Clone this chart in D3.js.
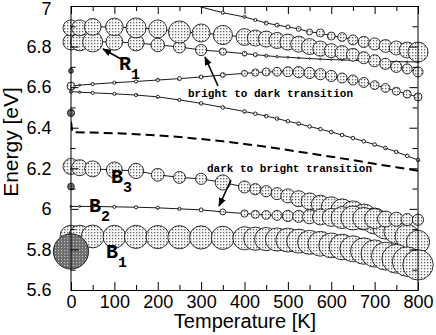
<!DOCTYPE html>
<html>
<head>
<meta charset="utf-8">
<script src="https://cdn.jsdelivr.net/npm/d3@7"></script>
<style>
body{margin:0;background:#fff}
svg{display:block}
</style>
</head>
<body>
<svg id="chart" width="436" height="335"></svg>
<script>
// temperature grid [K]
const temps=[0,20,50,100,150,200,250,300,350,400,425,450,475,500,525,550,575,600,625,650,675,700,725,750,775,800];

// energies [eV] and oscillator strength (arbitrary units, 0-100) per state
const topLineE=[null,null,null,null,null,null,7.03,6.995,6.967,6.946,6.931,6.916,6.906,6.897,6.887,6.872,6.867,6.852,6.847,6.833,6.823,6.813,6.803,6.793,6.783,6.773];
const topLineW=[0,0,0,0,0,0,0,0,8,8,8,10,10,10,12,15,20,20,22,25,28,30,32,35,40,50];

const r1UpperE=[6.892,6.892,6.897,6.897,6.892,6.887,6.872,6.867,6.857,6.847,6.842,6.837,6.83,6.822,6.812,6.80,6.79,6.78,6.77,6.76,6.745,6.73,6.715,6.70,6.69,6.675];
const r1UpperW=[40,40,42,44,50,45,55,45,48,42,40,40,40,40,40,40,38,35,35,32,30,30,28,28,25,25];

const r1LowerE=[6.823,6.823,6.823,6.823,6.818,6.808,6.798,6.783,6.775,6.765,6.76,6.755,6.75,6.747,6.744,6.741,6.738,6.736,6.734,6.732,6.73,6.728,6.727,6.726,6.725,6.724];
const r1LowerW=[40,45,50,42,40,34,30,28,18,12,10,8,6,5,4,4,4,4,4,4,4,4,4,4,4,5];

const midRiseE=[6.605,6.61,6.615,6.622,6.628,6.635,6.642,6.65,6.66,6.668,6.672,6.675,6.676,6.676,6.674,6.67,6.664,6.655,6.645,6.635,6.623,6.61,6.596,6.58,6.566,6.552];
const midRiseW=[20,5,8,8,8,9,10,10,12,15,18,20,22,25,28,28,28,28,25,25,25,22,22,20,20,20];

const midFallE=[6.578,6.575,6.572,6.567,6.561,6.552,6.537,6.52,6.5,6.48,6.469,6.457,6.445,6.432,6.42,6.406,6.393,6.379,6.364,6.349,6.333,6.317,6.3,6.281,6.261,6.241];
const midFallW=[8,6,8,8,8,8,8,9,9,9,9,9,9,9,9,9,9,9,9,9,9,9,9,9,9,9];

const b3E=[6.209,6.203,6.197,6.192,6.187,6.168,6.155,6.148,6.13,6.108,6.097,6.087,6.075,6.064,6.05,6.037,6.023,6.01,5.995,5.98,5.96,5.94,5.915,5.89,5.865,5.837];
const b3W=[40,40,40,40,38,32,30,28,38,30,28,28,30,35,40,42,45,50,55,60,65,65,65,62,60,58];

const b2E=[6.012,6.012,6.012,6.01,6.008,6.005,6.0,5.995,5.985,5.977,5.973,5.97,5.968,5.965,5.963,5.961,5.96,5.958,5.957,5.955,5.953,5.952,5.95,5.949,5.947,5.946];
const b2W=[5,5,8,8,8,8,8,10,15,18,20,22,25,28,30,35,40,45,55,60,55,50,40,35,30,28];

const b1E=[5.865,5.865,5.864,5.863,5.862,5.861,5.86,5.859,5.857,5.855,5.853,5.851,5.849,5.846,5.841,5.835,5.828,5.82,5.812,5.803,5.792,5.78,5.767,5.754,5.74,5.724];
const b1W=[55,55,57,57,58,58,58,58,58,58,58,58,58,60,60,60,62,62,64,65,66,68,70,72,74,76];

// T = 0 K reference states (dark markers)
const darkE=[6.68,6.473,6.11,5.79];
const darkW=[12,18,17,88];

// dashed curve
const dashT=[0,3,50,100,150,200,250,300,350,400,450,500,550,600,650,700,750,800];
const dashE=[6.43,6.378,6.376,6.373,6.368,6.362,6.354,6.344,6.333,6.32,6.306,6.29,6.274,6.257,6.24,6.222,6.205,6.188];

// axis ticks
const xTicks=[0,100,200,300,400,500,600,700,800];
const xMinor=[50,150,250,350,450,550,650,750];
const yTicks=[5.6,5.8,6,6.2,6.4,6.6,6.8,7];
const yMinor=[5.7,5.9,6.1,6.3,6.5,6.7,6.9];

const series=[
    {e:topLineE,w:topLineW},
    {e:r1LowerE,w:r1LowerW},
    {e:r1UpperE,w:r1UpperW},
    {e:midRiseE,w:midRiseW},
    {e:midFallE,w:midFallW},
    {e:b3E,w:b3W},
    {e:b2E,w:b2W},
    {e:b1E,w:b1W}
];

const svg=d3.select("#chart");
const x=d3.scaleLinear().domain([0,800]).range([71,418]);
const y=d3.scaleLinear().domain([5.6,7]).range([290,6]);
const r=d3.scaleLinear().domain([0,100]).range([0,20]);

const defs=svg.append("defs");
// stipple fills
const dots=defs.append("pattern").attr("id","dots")
    .attr("patternUnits","userSpaceOnUse").attr("width",3).attr("height",3);
dots.append("rect").attr("width",3).attr("height",3).attr("fill","#fafafa");
dots.append("rect").attr("x",1).attr("y",1).attr("width",1.3).attr("height",1.3).attr("fill","#666");
const darkDots=defs.append("pattern").attr("id","darkdots")
    .attr("patternUnits","userSpaceOnUse").attr("width",3).attr("height",3);
darkDots.append("rect").attr("width",3).attr("height",3).attr("fill","#6e6e6e");
darkDots.append("rect").attr("x",1).attr("y",1).attr("width",1.1).attr("height",1.1).attr("fill","#c4c4c4");

defs.append("clipPath").attr("id","plotclip")
    .append("rect").attr("x",71).attr("y",6).attr("width",347).attr("height",284);

defs.append("marker").attr("id","arrow")
    .attr("viewBox","0 0 10 10").attr("refX",9).attr("refY",5)
    .attr("markerWidth",9).attr("markerHeight",9)
    .attr("markerUnits","userSpaceOnUse").attr("orient","auto")
    .append("path").attr("d","M0,1L10,5L0,9z").attr("fill","black");

// lines
const line=d3.line()
    .defined(d=>d.e!=null)
    .x(d=>x(d.t))
    .y(d=>y(d.e));

const lines=svg.append("g").attr("clip-path","url(#plotclip)");
for(const s of series){
    const pts=temps.map((t,i)=>({t:t,e:s.e[i]}));
    lines.append("path")
        .attr("d",line(pts))
        .attr("fill","none")
        .attr("stroke","black")
        .attr("stroke-width",0.9);
}
lines.append("path")
    .attr("d",line(dashT.map((t,i)=>({t:t,e:dashE[i]}))))
    .attr("fill","none")
    .attr("stroke","black")
    .attr("stroke-width",2)
    .attr("stroke-dasharray","9,5");

// circles (size = oscillator strength)
const marks=svg.append("g");
for(const s of series){
    temps.forEach((t,i)=>{
        if(s.e[i]==null||s.w[i]<=0) return;
        marks.append("circle")
            .attr("cx",x(t))
            .attr("cy",y(s.e[i]))
            .attr("r",r(s.w[i]))
            .attr("fill","url(#dots)")
            .attr("stroke","black")
            .attr("stroke-width",0.8);
    });
}
darkE.forEach((e,i)=>{
    marks.append("circle")
        .attr("cx",x(0))
        .attr("cy",y(e))
        .attr("r",r(darkW[i]))
        .attr("fill","url(#darkdots)")
        .attr("stroke","black")
        .attr("stroke-width",0.8);
});

// axes
function styleAxis(g){
    g.attr("font-family","'Liberation Sans',Arial,sans-serif").attr("font-size",18);
    g.selectAll("text").attr("fill","black");
}
svg.append("g").attr("transform","translate(0,290)")
    .call(d3.axisBottom(x).tickValues(xTicks).tickSizeInner(-8).tickSizeOuter(0).tickPadding(5).tickFormat(d=>String(d)))
    .call(styleAxis);
svg.append("g").attr("transform","translate(0,290)")
    .call(d3.axisBottom(x).tickValues(xMinor).tickSize(-5).tickFormat(""))
    .call(g=>g.select(".domain").remove());
svg.append("g").attr("transform","translate(0,6)")
    .call(d3.axisTop(x).tickValues(xTicks).tickSizeInner(-8).tickSizeOuter(0).tickFormat(""));
svg.append("g").attr("transform","translate(0,6)")
    .call(d3.axisTop(x).tickValues(xMinor).tickSize(-5).tickFormat(""))
    .call(g=>g.select(".domain").remove());
svg.append("g").attr("transform","translate(70.5,0)")
    .call(d3.axisLeft(y).tickValues(yTicks).tickSizeInner(-8).tickSizeOuter(0).tickPadding(19).tickFormat(d=>String(d)))
    .call(styleAxis)
    .call(g=>g.selectAll(".tick text").filter(d=>d===7).attr("dy","0.45em"));
svg.append("g").attr("transform","translate(70.5,0)")
    .call(d3.axisLeft(y).tickValues(yMinor).tickSize(-5).tickFormat(""))
    .call(g=>g.select(".domain").remove());
svg.append("g").attr("transform","translate(417.5,0)")
    .call(d3.axisRight(y).tickValues(yTicks).tickSizeInner(-8).tickSizeOuter(0).tickFormat(""));
svg.append("g").attr("transform","translate(417.5,0)")
    .call(d3.axisRight(y).tickValues(yMinor).tickSize(-5).tickFormat(""))
    .call(g=>g.select(".domain").remove());

// axis titles
svg.append("text")
    .attr("x",245).attr("y",328)
    .attr("text-anchor","middle")
    .attr("font-family","'Liberation Sans',Arial,sans-serif")
    .attr("font-size",20)
    .text("Temperature [K]");
svg.append("text")
    .attr("transform","translate(18,142) rotate(-90)")
    .attr("text-anchor","middle")
    .attr("font-family","'Liberation Sans',Arial,sans-serif")
    .attr("font-size",21)
    .text("Energy [eV]");

// state labels
const mono="'Liberation Mono','Courier New',monospace";
function stateLabel(px,py,main,sub){
    const t=svg.append("text")
        .attr("x",px).attr("y",py)
        .attr("font-family",mono)
        .attr("font-weight","bold")
        .attr("font-size",20)
        .text(main);
    t.append("tspan")
        .attr("dy",9)
        .attr("font-size",15)
        .text(sub);
}
stateLabel(119,70,"R","1");
stateLabel(106,258,"B","1");
stateLabel(89,212,"B","2");
stateLabel(111,183,"B","3");

// transition notes
svg.append("text")
    .attr("x",188).attr("y",97)
    .attr("font-family",mono).attr("font-weight","bold").attr("font-size",11)
    .text("bright to dark transition");
svg.append("text")
    .attr("x",207).attr("y",172)
    .attr("font-family",mono).attr("font-weight","bold").attr("font-size",11)
    .text("dark to bright transition");

// arrows
const arrows=[[121,59,103,49],[218,86,205,57],[231,180,219,206]];
for(const a of arrows){
    svg.append("line")
        .attr("x1",a[0]).attr("y1",a[1])
        .attr("x2",a[2]).attr("y2",a[3])
        .attr("stroke","black")
        .attr("stroke-width",1.6)
        .attr("marker-end","url(#arrow)");
}
</script>
</body>
</html>
